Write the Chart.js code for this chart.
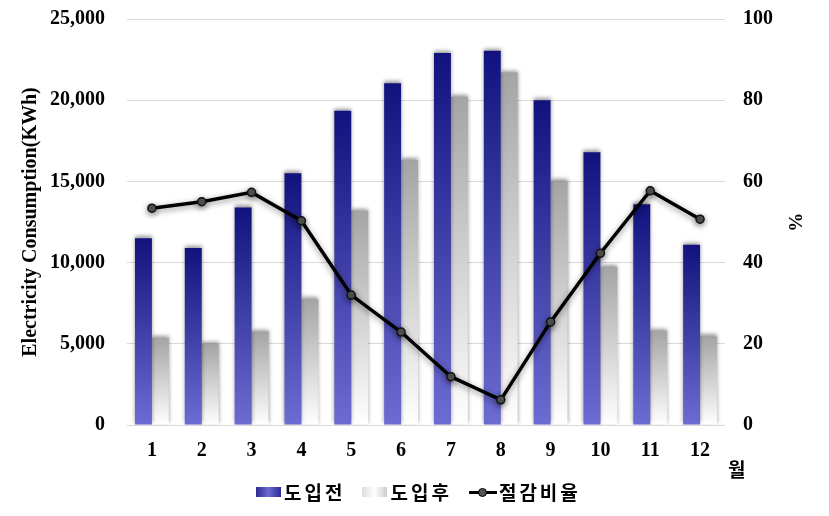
<!DOCTYPE html>
<html>
<head>
<meta charset="utf-8">
<script src="https://cdn.jsdelivr.net/npm/chart.js@4"></script>
<style>
  html, body { margin: 0; padding: 0; background: #fff; }
  #wrap { position: relative; width: 829px; height: 516px; }
  #unit {
    position: absolute; left: 728px; top: 455px;
    font: bold 19px 'Noto Sans CJK KR', sans-serif; color: #000;
  }
  #legend {
    position: absolute; left: 256px; top: 478px; display: flex; align-items: center;
    font: bold 19px 'Noto Sans CJK KR', sans-serif; color: #000; letter-spacing: 3px;
  }
  .item { display: flex; align-items: center; margin-right: 17px; }
  .box { width: 25px; height: 10px; margin-right: 3px; }
  .mark { position: relative; width: 28px; height: 10px; margin-right: 2px; }
  .mark:before { content: ''; position: absolute; left: 0; right: 0; top: 4px; height: 3px; background: #000; }
  .mark:after { content: ''; position: absolute; left: 9px; top: 1px; width: 7px; height: 7px; border-radius: 50%; background: #555; border: 1px solid #000; }
</style>
</head>
<body>
<div id="wrap">
  <canvas id="chart" width="829" height="516"></canvas>
  <div id="unit">월</div>
  <div id="legend">
    <div class="item"><div class="box" style="background: linear-gradient(90deg, #2a2a90, #6b6bd0, #2a2a90);"></div>도입전</div>
    <div class="item"><div class="box" style="background: linear-gradient(90deg, #ddd, #fff, #ccc);"></div>도입후</div>
    <div class="item"><div class="mark"></div>절감비율</div>
  </div>
</div>
<script>
// months on the x axis
const months = ['1', '2', '3', '4', '5', '6', '7', '8', '9', '10', '11', '12'];

// consumption before / after (kWh)
const before = [11500, 10900, 13400, 15500, 19350, 21050, 22900, 23050, 20000, 16800, 13600, 11100];
const after = [5350, 5000, 5750, 7750, 13200, 16300, 20200, 21700, 15000, 9750, 5800, 5450];

// saving ratio (%)
const savingRate = [53.4, 55.0, 57.3, 50.3, 32.0, 22.9, 11.9, 6.2, 25.4, 42.3, 57.7, 50.7];

const serif = "'Liberation Serif', 'Times New Roman', serif";

// vertical gradient running over each bar's own height
function barGradient(top, bottom) {
    return function(context) {
        const chart = context.chart;
        if (!chart.chartArea || context.parsed === undefined) return bottom;
        const yScale = chart.scales.y;
        const yTop = yScale.getPixelForValue(context.parsed.y);
        const yBot = yScale.getPixelForValue(0);
        const g = chart.ctx.createLinearGradient(0, yTop, 0, yBot);
        g.addColorStop(0, top);
        g.addColorStop(1, bottom);
        return g;
    };
}

// soft shadow behind bars and line
const shadowPlugin = {
    id: 'shadow',
    beforeDatasetDraw(chart, args) {
        const ctx = chart.ctx;
        ctx.save();
        if (args.meta.type === 'line') {
            ctx.shadowColor = 'rgba(0, 0, 0, 0.45)';
            ctx.shadowBlur = 6;
            ctx.shadowOffsetY = 2;
        } else {
            ctx.shadowColor = 'rgba(0, 0, 0, 0.4)';
            ctx.shadowBlur = 4;
            ctx.shadowOffsetY = -2;
        }
    },
    afterDatasetDraw(chart) {
        chart.ctx.restore();
    }
};

// fixed side widths, no extra top/bottom room from tick padding
function fixSide(width) {
    return function(scale) {
        scale.width = width;
        scale.paddingTop = 0;
        scale.paddingBottom = 0;
    };
}

new Chart(document.getElementById('chart'), {
    type: 'bar',
    data: {
        labels: months,
        datasets: [
            {
                type: 'line',
                label: '절감비율',
                data: savingRate,
                yAxisID: 'y1',
                borderColor: '#000',
                borderWidth: 3.5,
                pointRadius: 4,
                pointBackgroundColor: '#555',
                pointBorderColor: '#111',
                pointBorderWidth: 1.5,
                tension: 0,
                order: 0
            },
            {
                label: '도입전',
                data: before,
                yAxisID: 'y',
                backgroundColor: barGradient('#12127e', '#6c6cd2'),
                barPercentage: 1,
                categoryPercentage: 0.68,
                order: 1
            },
            {
                label: '도입후',
                data: after,
                yAxisID: 'y',
                backgroundColor: barGradient('#a4a4a4', '#ffffff'),
                barPercentage: 1,
                categoryPercentage: 0.68,
                order: 1
            }
        ]
    },
    options: {
        responsive: false,
        animation: false,
        layout: {
            padding: { top: 19, bottom: 44, left: 0, right: 0 }
        },
        plugins: {
            legend: { display: false },
            tooltip: { enabled: false }
        },
        scales: {
            x: {
                grid: { display: false },
                border: { display: false },
                ticks: {
                    color: '#000',
                    padding: 6,
                    font: { family: serif, size: 20, weight: 'bold' }
                },
                afterFit(scale) { scale.height = 47; }
            },
            y: {
                position: 'left',
                min: 0,
                max: 25000,
                ticks: {
                    stepSize: 5000,
                    color: '#000',
                    padding: 22,
                    font: { family: serif, size: 20, weight: 'bold' },
                    callback: v => v.toLocaleString('en-US')
                },
                grid: { color: '#d9d9d9', drawTicks: false },
                border: { display: false },
                title: {
                    display: true,
                    text: 'Electricity Consumption(KWh)',
                    color: '#000',
                    padding: { top: 19, bottom: 0 },
                    font: { family: serif, size: 20, weight: 'bold' }
                },
                afterFit: fixSide(127)
            },
            y1: {
                position: 'right',
                min: 0,
                max: 100,
                ticks: {
                    stepSize: 20,
                    color: '#000',
                    padding: 18,
                    font: { family: serif, size: 20, weight: 'bold' }
                },
                grid: { display: false, drawTicks: false },
                border: { display: false },
                title: {
                    display: true,
                    text: '%',
                    color: '#000',
                    padding: { top: 24, bottom: 0 },
                    font: { family: serif, size: 19, weight: 'bold' }
                },
                afterFit: fixSide(104)
            }
        }
    },
    plugins: [shadowPlugin]
});
</script>
</body>
</html>
